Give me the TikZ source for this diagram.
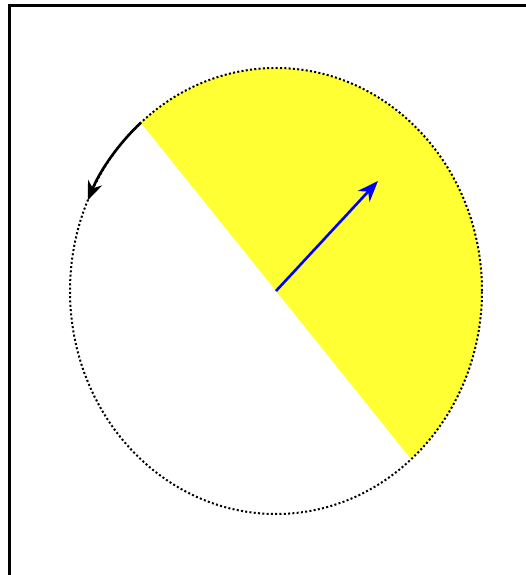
\documentclass[tikz,border=0pt]{standalone}
\usetikzlibrary{arrows.meta,calc}
\definecolor{halfyellow}{RGB}{255,255,51}
\begin{document}
\begin{tikzpicture}[x=1pt,y=1pt,
  frame/.style={line width=2.4pt},
  halfdisk/.style={fill=halfyellow},
  rim/.style={dash pattern=on 2pt off 2.3pt,line width=2pt},
  turnarrow/.style={-{Stealth[length=19pt,width=15pt,inset=6pt]},line width=2.6pt,black},
  vecarrow/.style={-{Stealth[length=21pt,width=16pt,inset=6.5pt]},line width=2.6pt,blue}]
\useasboundingbox (0,0) rectangle (526,575);
\clip (0,0) rectangle (526,575);
\draw[frame] (9.5,-20) rectangle (560,569.5);
\coordinate (c) at (276,284);
\coordinate (s) at ($(c)+({206*cos(131)},{223*sin(131)})$);
\fill[halfdisk] (c) -- (s) arc[start angle=131,end angle=-49,x radius=206,y radius=223] -- cycle;
\draw[rim] (c) ellipse[x radius=206,y radius=223];
\draw[turnarrow] (s) arc[start angle=131,end angle=156,x radius=206,y radius=223];
\coordinate (tip) at (378,394);
\draw[vecarrow] (c) -- (tip);
\end{tikzpicture}
\end{document}
